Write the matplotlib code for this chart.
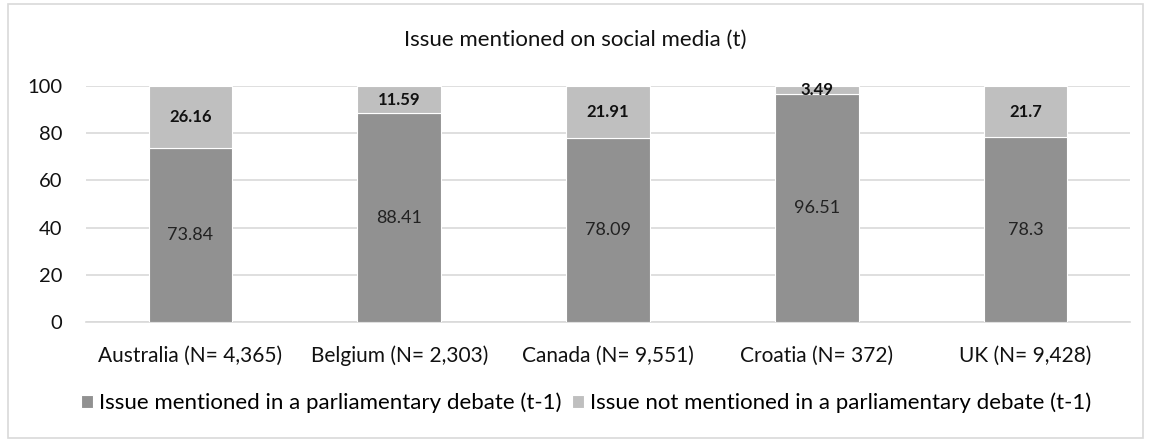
import numpy as np
import matplotlib.pyplot as plt
from matplotlib.patches import Rectangle

plt.rcParams['font.family'] = ['Lato', 'DejaVu Sans']

countries = ['Australia (N= 4,365)', 'Belgium (N= 2,303)', 'Canada (N= 9,551)',
             'Croatia (N= 372)', 'UK (N= 9,428)']
mentioned = [73.84, 88.41, 78.09, 96.51, 78.3]
not_mentioned = [26.16, 11.59, 21.91, 3.49, 21.7]
labels_mentioned = ['73.84', '88.41', '78.09', '96.51', '78.3']
labels_not = ['26.16', '11.59', '21.91', '3.49', '21.7']

dark = '#919191'
light = '#bfbfbf'
grid = '#d9d9d9'

fig = plt.figure(figsize=(11.51, 4.42), dpi=100)
# outer chart frame
fig.patches.append(Rectangle((8 / 1151, 4 / 442), 1135 / 1151, 434 / 442,
                             transform=fig.transFigure, fill=False,
                             edgecolor=grid, linewidth=1.2))

ax = fig.add_axes([86 / 1151, (442 - 322) / 442, 1044 / 1151, 236 / 442])
x = np.arange(len(countries))
w = 0.40
b1 = ax.bar(x, mentioned, w, color=dark, edgecolor='white', linewidth=0.8,
            label='Issue mentioned in a parliamentary debate (t-1)', zorder=3)
b2 = ax.bar(x, not_mentioned, w, bottom=mentioned, color=light, edgecolor='white',
            linewidth=0.8, label='Issue not mentioned in a parliamentary debate (t-1)',
            zorder=3)

for i in range(len(x)):
    ax.text(x[i], mentioned[i] / 2, labels_mentioned[i], ha='center', va='center',
            fontsize=13, color='#222222', zorder=4)
    ax.text(x[i], mentioned[i] + not_mentioned[i] / 2, labels_not[i], ha='center',
            va='center', fontsize=12, fontweight='bold', color='#111111', zorder=4)

ax.set_xlim(-0.5, len(x) - 0.5)
ax.set_ylim(0, 100)
ax.set_yticks(range(0, 101, 20))
ax.set_xticks(x)
ax.set_xticklabels(countries)
ax.tick_params(axis='both', length=0, colors='#111111')
ax.tick_params(axis='x', pad=17, labelsize=15)
ax.tick_params(axis='y', pad=17, labelsize=14.5)
for lab in ax.get_yticklabels():
    lab.set_horizontalalignment('right')
ax.grid(axis='y', color=grid, linewidth=1.2, zorder=0)
for s in ['top', 'right', 'left']:
    ax.spines[s].set_visible(False)
ax.spines['bottom'].set_color(grid)
ax.spines['bottom'].set_linewidth(1.2)

fig.text(0.5, 1 - 40 / 442, 'Issue mentioned on social media (t)', ha='center',
         va='center', fontsize=16, color='#111111')

fig.legend(handles=[b1, b2], loc='center', bbox_to_anchor=(586 / 1151, 1 - 403 / 442),
           ncol=2, frameon=False, fontsize=16, handlelength=0.55, handleheight=0.55,
           handletextpad=0.25, columnspacing=0.5)

fig.savefig('out.png', dpi=100)
